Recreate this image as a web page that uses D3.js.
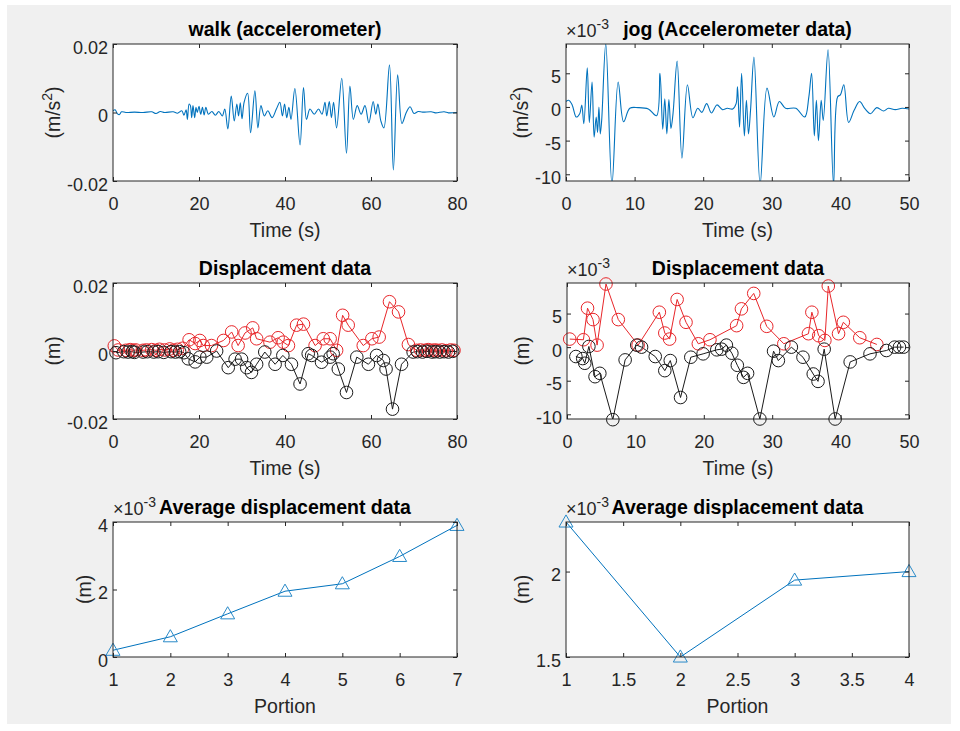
<!DOCTYPE html>
<html>
<head>
<meta charset="utf-8">
<script src="https://cdn.jsdelivr.net/npm/d3@7"></script>
<style>
  body { margin: 0; background: #fff; }
  svg text { font-family: "Liberation Sans", Arial, sans-serif; }
</style>
</head>
<body>
<svg id="fig" width="960" height="731"></svg>
<script>
// all y values are in units of 1e-3 (m/s^2 or m)

// walk accelerometer trace [time s, value]
const walkAccel = [
  [0, 0.5], [0.5, 0.8], [1, -0.3], [1.5, -0.6], [2, 0.2], [3, 0], [5, 0.1], [7, 0], [9, 0.2], [10, -0.3],
  [11, 0.3], [12, 0], [14, 0.2], [15, -0.2], [16, 0.5], [16.5, -0.8], [17, 0.8], [17.3, -2], [17.7, 2.5],
  [18, 2], [18.3, -1.5], [18.6, 2], [19, -1.5], [19.3, 1.5], [19.6, 0], [20, 1.8], [20.4, -0.5], [20.8, 1.5],
  [21.2, -0.7], [21.6, 1.5], [22.2, -0.5], [23, 0.3], [23.8, -0.8], [24.6, 0.3], [25.4, -1], [26, 1],
  [26.7, -4.8], [27.5, 4.8], [28.2, -2.5], [28.8, 2.5], [29.2, -1], [29.6, 2.8], [30, -1.8], [30.5, 3],
  [31.3, 5.6], [32, -5.9], [33, 6.3], [33.7, -4.5], [34.4, 2], [35.2, -1], [36, 0.5], [37, -1.5], [38, 1],
  [38.8, 3], [39.4, -1], [39.9, 2.5], [40.4, -1.5], [40.9, 1.5], [41.4, -2], [42.3, 7], [43.5, -9.5],
  [44.3, 7.3], [45, -2], [45.8, 1], [46.8, -0.5], [47.8, 1], [48.6, -0.5], [49.3, 3], [49.7, -1],
  [50.3, 3.2], [50.8, -1.5], [51.3, 3], [52, -4.5], [53.2, 10], [54.3, -11.9], [55.1, 7.7], [55.9, -2],
  [56.8, 2], [57.7, -0.5], [58.6, 2], [59.5, -3], [60.5, 3.2], [61.1, -0.5], [61.6, 2.5], [62.3, -2.5],
  [63, -4.5], [64.3, 13.9], [65.2, -16.8], [66.2, 11], [67.2, -3.2], [68.2, 0], [69.1, 1.7], [70, -0.3],
  [71, 0.3], [72, 0.1], [74, 0.2], [75, -0.1], [77, 0.2], [78, -0.1], [80, 0]
];

// jog accelerometer trace [time s, value]
const jogAccel = [
  [0, 0.8], [0.4, 1.0], [0.9, 0.3], [1.5, -1.5], [2.0, -1.0], [2.3, 0.3], [2.6, -2.5], [3.1, 5.8],
  [3.4, -2.3], [3.8, 3.7], [4.1, -4.5], [4.4, -1.5], [4.6, -3.8], [4.8, 0], [5.0, -4.0], [5.2, -2.0],
  [5.8, 9.4], [6.7, -11.5], [7.6, 3.7], [8.4, -2.2], [9.3, -0.2], [10.5, -0.1], [12.0, -0.3], [13.2, -1.3],
  [13.7, 5.0], [14.1, -3.3], [14.4, 1.2], [14.7, -4.0], [15.0, 1.1], [15.3, -3.2], [15.6, -1.0], [16.2, 6.8],
  [16.9, -7.6], [17.7, 3.3], [18.5, -1.6], [19.2, -0.2], [19.8, -0.8], [20.5, 0.5], [21.2, -0.9], [22.0, 0.3],
  [22.8, -0.4], [23.5, -0.2], [24.3, -0.3], [24.8, 0.5], [25.0, 3.0], [25.3, -3.0], [25.6, 5.0], [26.0, -4.3],
  [26.3, 1.0], [26.6, -4.0], [26.9, -0.5], [27.4, 7.4], [28.3, -11.5], [29.3, 2.8], [30.3, -1.5], [31.1, 0.8],
  [32.0, -0.2], [33.5, -0.2], [34.8, -1.5], [35.4, 1.5], [35.8, 5.0], [36.2, -4.3], [36.5, 1.0], [36.8, -5.0],
  [37.2, 1.0], [37.5, -2.0], [38.2, 8.5], [39.0, -11.5], [39.6, 1.5], [40.0, 1.8], [40.5, 3.3], [41.2, -2.3],
  [42.0, -0.5], [42.8, 0.8], [43.6, -0.3], [44.4, -1.0], [45.3, -0.1], [46.3, -0.6], [47.0, -0.2],
  [48.0, -0.4], [49.0, -0.2], [50, -0.3]
];

// walk displacement, upper (red) and lower (black) envelopes
const walkDispUp = [
  [0.3, 1.5], [1.2, 0.3], [3, 0.2], [4, 0.4], [4.7, 0.2], [5.3, 0.3], [7, 0.2], [7.8, 0.3], [9, 0.4],
  [10, 0.2], [10.8, 0.5], [12, 0.3], [13.2, 0.6], [14, 0.2], [15, 0.5], [16.2, 0.8], [17.7, 3.3],
  [19.1, 2.2], [20.2, 3.1], [21.0, 1.6], [22.9, 1.6], [25.7, 3.1], [27.6, 5.6], [29.1, 1.6], [30.7, 5.3],
  [32.5, 6.8], [33.4, 3.6], [36.5, 2.6], [38.4, 3.9], [39.6, 2.6], [40.8, 1.6], [42.7, 7.6], [44.3, 7.9],
  [47.0, 1.6], [48.9, 3.6], [50.5, 3.6], [52.0, 0.2], [53.4, 10.5], [54.7, 7.6], [58.2, 1.6], [60.2, 3.6],
  [61.9, 4.1], [64.3, 14.5], [66.4, 11.5], [68.7, 1.9], [70.6, 0.2], [71.5, 0.3], [72.5, 0.2], [73.3, 0.4],
  [74, 0.2], [74.8, 0.3], [75.5, 0.2], [76.5, 0.3], [77.5, 0.1], [78.5, 0.3], [79.3, 0.2]
];
const walkDispDown = [
  [0.7, -0.5], [2.5, -0.2], [3.5, -0.3], [4.5, -0.2], [5, -0.4], [7, -0.3], [8, -0.2], [9.5, -0.3],
  [10.5, -0.2], [11.8, -0.4], [13.5, -0.2], [14.5, -0.3], [15.5, -0.2], [16.5, -0.5], [17.5, -2.3],
  [19.1, -3.2], [20.2, -1.8], [21.8, -1.8], [24.1, 0], [26.8, -4.9], [28.4, -2.4], [29.9, -2.4],
  [31.1, -4.9], [32.2, -6.3], [33.4, -3.9], [35.3, -0.3], [37.7, -3.9], [39.5, -1.3], [41.5, -3.9],
  [43.5, -9.7], [45.4, -0.8], [46.2, -1.3], [48.5, -3.3], [50.5, -1.8], [51.2, -0.8], [52.4, -5.3],
  [54.3, -12.2], [56.7, -1.8], [59.4, -3.9], [61.3, -1.3], [62.9, -2.8], [63.5, -5.3], [65.0, -17.1],
  [67.1, -3.9], [69.8, -0.3], [70.8, -0.2], [72, -0.3], [73, -0.1], [74.2, -0.3], [75, -0.2], [76, -0.3],
  [77, -0.2], [78, -0.3], [79, -0.1]
];

// jog displacement
const jogDispUp = [
  [0.4, 1.2], [2.4, 1.1], [3.0, 5.8], [3.8, 4.1], [4.4, 0.3], [5.7, 9.4], [7.5, 4.1], [10.4, 0.3],
  [13.5, 5.2], [14.3, 2.1], [15.0, 1.2], [16.1, 7.1], [17.4, 3.7], [19.2, 0.5], [20.9, 1.1], [24.8, 3.2],
  [25.5, 5.7], [27.3, 8.0], [29.2, 3.1], [31.7, 0.5], [35.3, 2.0], [35.8, 5.2], [36.8, 1.7], [37.7, 1.0],
  [38.2, 9.1], [39.7, 2.0], [40.4, 3.7], [42.8, 1.4], [45.3, 0.4]
];
const jogDispDown = [
  [1.3, -1.4], [2.3, -1.7], [2.6, -2.4], [3.2, 0.1], [4.1, -4.4], [4.8, -3.9], [6.7, -10.8], [8.5, -1.9],
  [10.2, 0.3], [10.9, 0], [12.9, -1.4], [14.3, -3.5], [15.1, -2.0], [16.6, -7.5], [18.1, -1.5],
  [19.9, -1.0], [21.9, -0.4], [22.6, -0.3], [23.3, 0.3], [24.1, -0.9], [24.9, -2.7], [25.8, -4.5],
  [26.4, -3.9], [28.2, -10.7], [30.2, -0.6], [30.9, -2.0], [32.8, 0], [34.5, -1.5], [36.0, -4.0],
  [36.7, -5.1], [37.6, -0.3], [39.2, -10.7], [41.4, -2.2], [44.3, -1.0], [46.7, -0.5], [47.9, 0],
  [48.6, 0], [49.2, 0]
];

// average displacement per portion
const walkPortions = [1, 2, 3, 4, 5, 6, 7];
const walkAvgDisp = [0.2, 0.6, 1.28, 1.95, 2.17, 2.98, 3.9];
const jogPortions = [1, 2, 3, 4];
const jogAvgDisp = [2.29, 1.5, 1.95, 2.0];

// tick values
const walkTimeTicks = [0, 20, 40, 60, 80];
const jogTimeTicks = [0, 10, 20, 30, 40, 50];
const walkYTicks = [-20, 0, 20];
const jogYTicks = [-10, -5, 0, 5];
const walkPortionTicks = [0, 2, 4];
const jogPortionXTicks = [1, 1.5, 2, 2.5, 3, 3.5, 4];
const jogPortionYTicks = [1.5, 2];

const svg = d3.select("#fig");
svg.append("rect").attr("x", 7).attr("y", 5).attr("width", 944).attr("height", 719).attr("fill", "#f0f0f0");

const INK = "#262626";
const BLUE = "#0072bd";
let clipId = 0;

function panel(o) {
  const x = d3.scaleLinear().domain(o.xDomain).range([o.left, o.left + o.width]);
  const y = d3.scaleLinear().domain(o.yDomain).range([o.top + o.height, o.top]);
  const g = svg.append("g");
  g.append("rect").attr("x", o.left).attr("y", o.top).attr("width", o.width).attr("height", o.height).attr("fill", "#fff");

  const id = "clip" + (clipId++);
  g.append("clipPath").attr("id", id).append("rect")
    .attr("x", o.left).attr("y", o.top).attr("width", o.width).attr("height", o.height);
  const plot = g.append("g").attr("clip-path", `url(#${id})`);

  o.series.forEach(s => {
    const line = d3.line().x(d => x(d[0])).y(d => y(d[1]));
    if (s.curve) line.curve(s.curve);
    plot.append("path").datum(s.data).attr("d", line)
      .attr("fill", "none").attr("stroke", s.color).attr("stroke-width", s.width || 1);
  });
  // markers are allowed to sit over the box edge
  const marks = g.append("g");
  o.series.forEach(s => {
    if (s.marker === "circle") {
      marks.selectAll(null).data(s.data).enter().append("circle")
        .attr("cx", d => x(d[0])).attr("cy", d => y(d[1])).attr("r", 6.3)
        .attr("fill", "none").attr("stroke", s.color).attr("stroke-width", 1);
    } else if (s.marker === "triangle") {
      marks.selectAll(null).data(s.data).enter().append("path")
        .attr("d", d3.symbol(d3.symbolTriangle, 85))
        .attr("transform", d => `translate(${x(d[0])},${y(d[1]) + 1})`)
        .attr("fill", "none").attr("stroke", s.markColor || s.color).attr("stroke-width", 1);
    }
  });

  const b = o.top + o.height, r = o.left + o.width;
  const styleAxis = sel => {
    sel.select(".domain").remove();
    sel.selectAll("line").attr("stroke", INK);
    sel.selectAll("text").attr("fill", INK).attr("font-size", 18)
      .attr("font-family", '"Liberation Sans", Arial, sans-serif');
    sel.attr("font-size", null).attr("font-family", null);
  };
  const xb = g.append("g").attr("transform", `translate(0,${b})`)
    .call(d3.axisBottom(x).tickValues(o.xTicks).tickFormat(o.xFmt || (d => d)).tickSize(-4).tickPadding(16))
    .call(styleAxis);
  xb.selectAll("text").attr("dy", "0.71em");
  g.append("g").attr("transform", `translate(0,${o.top})`)
    .call(d3.axisTop(x).tickValues(o.xTicks).tickFormat("").tickSize(-4)).call(styleAxis);
  const yl = g.append("g").attr("transform", `translate(${o.left},0)`)
    .call(d3.axisLeft(y).tickValues(o.yTicks).tickFormat(o.yFmt || (d => d)).tickSize(-4).tickPadding(5))
    .call(styleAxis);
  yl.selectAll("text").attr("dy", "0.5em");
  g.append("g").attr("transform", `translate(${r},0)`)
    .call(d3.axisRight(y).tickValues(o.yTicks).tickFormat("").tickSize(-4)).call(styleAxis);

  g.append("rect").attr("x", o.left).attr("y", o.top).attr("width", o.width).attr("height", o.height)
    .attr("fill", "none").attr("stroke", INK).attr("stroke-width", 1);

  let maxW = 0;
  yl.selectAll("text").each(function() { maxW = Math.max(maxW, this.getComputedTextLength()); });

  if (o.exponent) {
    const t = g.append("text").attr("x", o.left).attr("y", o.top - 7)
      .attr("font-size", 18).attr("fill", INK);
    t.append("tspan").text("×10");
    t.append("tspan").attr("dy", -8).attr("font-size", 14).text("-3");
  }

  g.append("text").attr("x", o.left + o.width / 2).attr("y", o.top - 8)
    .attr("text-anchor", "middle").attr("font-size", 19.5).attr("font-weight", "bold").attr("fill", "#000")
    .text(o.title);

  g.append("text").attr("x", o.left + o.width / 2).attr("y", b + 56)
    .attr("text-anchor", "middle").attr("font-size", 19.5).attr("fill", INK).text(o.xLabel);

  const ly = g.append("text")
    .attr("transform", `translate(${o.left - 5 - maxW - 14},${o.top + o.height / 2}) rotate(-90)`)
    .attr("text-anchor", "middle").attr("dy", "0.35em").attr("font-size", 19.5).attr("fill", INK);
  if (o.yLabelSup) {
    ly.append("tspan").text(o.yLabel);
    ly.append("tspan").attr("dy", -8).attr("font-size", 14).text(o.yLabelSup);
    ly.append("tspan").attr("dy", 8).text(")");
  } else {
    ly.text(o.yLabel);
  }
}

// MATLAB style labels with a plain hyphen for negatives
const fmtWalk = d => d === 0 ? "0" : (d / 1000).toFixed(2);
const smooth = d3.curveCatmullRom.alpha(0.5);

panel({
  left: 113, top: 44, width: 344, height: 137,
  xDomain: [0, 80], yDomain: [-20, 20], xTicks: walkTimeTicks, yTicks: walkYTicks, yFmt: fmtWalk,
  title: "walk (accelerometer)", xLabel: "Time (s)", yLabel: "(m/s", yLabelSup: "2",
  series: [{ data: walkAccel, color: BLUE, width: 1.1, curve: smooth }]
});
panel({
  left: 566, top: 44, width: 343, height: 137,
  xDomain: [0, 50], yDomain: [-11.0, 9.35], xTicks: jogTimeTicks, yTicks: jogYTicks, exponent: true,
  title: "jog (Accelerometer data)", xLabel: "Time (s)", yLabel: "(m/s", yLabelSup: "2",
  series: [{ data: jogAccel, color: BLUE, width: 1.1, curve: smooth }]
});
panel({
  left: 113, top: 283, width: 344, height: 136,
  xDomain: [0, 80], yDomain: [-20, 20], xTicks: walkTimeTicks, yTicks: walkYTicks, yFmt: fmtWalk,
  title: "Displacement data", xLabel: "Time (s)", yLabel: "(m)",
  series: [
    { data: walkDispUp, color: "#e8262a", marker: "circle" },
    { data: walkDispDown, color: "#1a1a1a", marker: "circle" }
  ]
});
panel({
  left: 567, top: 283, width: 342, height: 136,
  xDomain: [0, 50], yDomain: [-10.7, 9.55], xTicks: jogTimeTicks, yTicks: jogYTicks, exponent: true,
  title: "Displacement data", xLabel: "Time (s)", yLabel: "(m)",
  series: [
    { data: jogDispUp, color: "#e8262a", marker: "circle" },
    { data: jogDispDown, color: "#1a1a1a", marker: "circle" }
  ]
});
panel({
  left: 113, top: 522, width: 344, height: 135,
  xDomain: [1, 7], yDomain: [0, 4], xTicks: walkPortions, yTicks: walkPortionTicks, exponent: true,
  title: "Average displacement data", xLabel: "Portion", yLabel: "(m)",
  series: [{ data: walkPortions.map((p, i) => [p, walkAvgDisp[i]]), color: BLUE, marker: "triangle", markColor: "#2a8ac8" }]
});
panel({
  left: 566, top: 522, width: 343, height: 135,
  xDomain: [1, 4], yDomain: [1.5, 2.29], xTicks: jogPortionXTicks, yTicks: jogPortionYTicks, exponent: true,
  title: "Average displacement data", xLabel: "Portion", yLabel: "(m)",
  series: [{ data: jogPortions.map((p, i) => [p, jogAvgDisp[i]]), color: BLUE, marker: "triangle", markColor: "#2a8ac8" }]
});
</script>
</body>
</html>
